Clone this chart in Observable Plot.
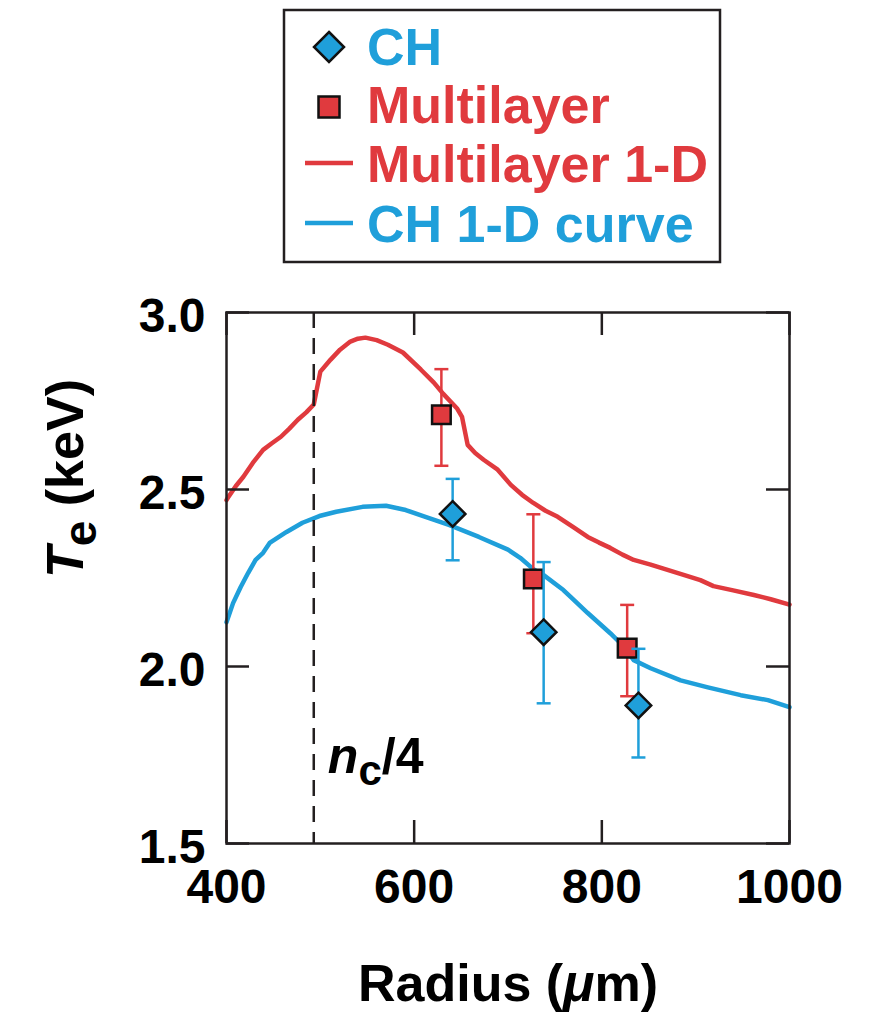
<!DOCTYPE html>
<html><head><meta charset="utf-8">
<script src="https://cdn.jsdelivr.net/npm/d3@7"></script>
<script src="https://cdn.jsdelivr.net/npm/@observablehq/plot@0.6"></script>
<style>
body{margin:0;background:#fff;font-family:"Liberation Sans",Arial,Helvetica,sans-serif;}
#wrap{position:relative;width:877px;}
#legend{position:relative;width:877px;height:290px;}
#chart svg{display:block;}
</style></head><body>
<div id="wrap"><div id="legend"></div><div id="chart"></div></div>
<script>
// ---- data ----
const RED = "#e03a3e", BLUE = "#1f9fda", INK = "#231f20";
const xTicks = [400, 600, 800, 1000];
const yTicks = [1.5, 2.0, 2.5, 3.0];

// Multilayer 1-D curve
const mlCurveX = [400,402,410,418,428,439,448,458,467,476,485,493,500,511,521,532,540,548,560,572,588,607,621,631,646,651,657,665,674,689,703,715,727,740,753,770,785,797,809,822,834,852,870,888,905,919,940,962,980,1000];
const mlCurveY = [2.47,2.479,2.51,2.536,2.575,2.612,2.63,2.649,2.672,2.697,2.718,2.740,2.833,2.867,2.895,2.918,2.926,2.929,2.922,2.909,2.887,2.839,2.802,2.770,2.728,2.705,2.626,2.603,2.584,2.556,2.513,2.485,2.462,2.44,2.423,2.393,2.366,2.350,2.335,2.316,2.301,2.288,2.273,2.258,2.244,2.227,2.215,2.202,2.190,2.175];

// CH 1-D curve
const chCurveX = [400,407,415,423,431,439,446,464,481,499,517,545,570,591,612,637,669,700,713,727,738,759,767,785,809,822,834,852,884,913,948,977,1000];
const chCurveY = [2.125,2.179,2.224,2.264,2.301,2.321,2.349,2.380,2.406,2.425,2.437,2.451,2.454,2.442,2.423,2.400,2.366,2.330,2.307,2.275,2.258,2.216,2.196,2.151,2.094,2.060,2.018,1.995,1.961,1.941,1.919,1.905,1.885];

// measured points
const chX  = [641, 738, 839];
const chY  = [2.431, 2.097, 1.890];
const chLo = [2.30, 1.896, 1.743];
const chHi = [2.53, 2.295, 2.05];

const mlX  = [629, 727, 827];
const mlY  = [2.711, 2.247, 2.052];
const mlLo = [2.567, 2.094, 1.916];
const mlHi = [2.84, 2.43, 2.174];

const ncRadius = 493;
const ncLabelPos = [{x: 508, y: 1.70}];

const legendLabels = ["CH", "Multilayer", "Multilayer 1-D", "CH 1-D curve"];
const legendKinds  = ["diamond", "square", "line", "line"];
const legendColors = [BLUE, RED, RED, BLUE];

// ---- tables ----
const mlCurve = mlCurveX.map((x, i) => ({x, y: mlCurveY[i]}));
const chCurve = chCurveX.map((x, i) => ({x, y: chCurveY[i]}));
const chPts = chX.map((x, i) => ({x, y: chY[i], lo: chLo[i], hi: chHi[i]}));
const mlPts = mlX.map((x, i) => ({x, y: mlY[i], lo: mlLo[i], hi: mlHi[i]}));

const FONT = '"Liberation Sans", Arial, Helvetica, sans-serif';

// ---- legend ----
(function () {
  const svg = d3.select("#legend").append("svg").attr("width", 877).attr("height", 290)
    .style("font-family", FONT);
  svg.append("rect").attr("x", 284).attr("y", 10).attr("width", 436).attr("height", 252)
    .attr("fill", "white").attr("stroke", INK).attr("stroke-width", 2.5);
  const base = [65, 123, 182, 242];
  legendLabels.forEach((lab, i) => {
    const cy = base[i] - 18, cx = 329;
    const k = legendKinds[i];
    if (k === "diamond") {
      svg.append("path").attr("d", `M${cx},${cy-15}L${cx+15},${cy}L${cx},${cy+15}L${cx-15},${cy}Z`)
        .attr("fill", legendColors[i]).attr("stroke", "#111").attr("stroke-width", 2.5);
    } else if (k === "square") {
      svg.append("rect").attr("x", cx - 10.5).attr("y", cy - 10.5 + 2).attr("width", 21).attr("height", 21)
        .attr("fill", legendColors[i]).attr("stroke", "#111").attr("stroke-width", 2.5);
    } else {
      svg.append("line").attr("x1", 305).attr("x2", 353).attr("y1", cy - 1).attr("y2", cy - 1)
        .attr("stroke", legendColors[i]).attr("stroke-width", 4.5);
    }
    svg.append("text").attr("x", 367).attr("y", base[i]).attr("fill", legendColors[i])
      .attr("font-size", 52).attr("font-weight", "bold").text(lab);
  });
})();

// ---- plot ----
const W = 877, H = 731, mT = 22, mB = 178, mL = 226, mR = 88;
const fw = W - mL - mR, fh = H - mT - mB;
const TL = 23;
const capSymbol = {draw(ctx) { ctx.moveTo(-7, 0); ctx.lineTo(7, 0); }};

const plot = Plot.plot({
  width: W, height: H,
  marginTop: mT, marginBottom: mB, marginLeft: mL, marginRight: mR,
  x: {domain: [400, 1000]},
  y: {domain: [1.5, 3.0]},
  style: {fontFamily: FONT, background: "white", overflow: "visible", color: "black"},
  marks: [
    Plot.line(mlCurve, {x: "x", y: "y", stroke: RED, strokeWidth: 4.5, strokeLinejoin: "round"}),
    Plot.line(chCurve, {x: "x", y: "y", stroke: BLUE, strokeWidth: 4.5, strokeLinejoin: "round"}),
    Plot.ruleX([ncRadius], {x: d => d, stroke: INK, strokeWidth: 2.5, strokeDasharray: "16,10"}),
    Plot.ruleX(mlPts, {x: "x", y1: "lo", y2: "hi", stroke: RED, strokeWidth: 2.5}),
    Plot.dot(mlPts, {x: "x", y: "lo", symbol: capSymbol, stroke: RED, strokeWidth: 2.5, fill: "none"}),
    Plot.dot(mlPts, {x: "x", y: "hi", symbol: capSymbol, stroke: RED, strokeWidth: 2.5, fill: "none"}),
    Plot.dot(mlPts, {x: "x", y: "y", symbol: "square", r: 10.5, fill: RED, stroke: "#111", strokeWidth: 2.5}),
    Plot.ruleX(chPts, {x: "x", y1: "lo", y2: "hi", stroke: BLUE, strokeWidth: 2.5}),
    Plot.dot(chPts, {x: "x", y: "lo", symbol: capSymbol, stroke: BLUE, strokeWidth: 2.5, fill: "none"}),
    Plot.dot(chPts, {x: "x", y: "hi", symbol: capSymbol, stroke: BLUE, strokeWidth: 2.5, fill: "none"}),
    Plot.dot(chPts, {x: "x", y: "y", symbol: "diamond2", r: 11.5, fill: BLUE, stroke: "#111", strokeWidth: 2.5}),
    Plot.tickX(xTicks, {x: d => d, insetTop: fh - TL, stroke: INK, strokeWidth: 2.5}),
    Plot.tickX(xTicks, {x: d => d, insetBottom: fh - TL, stroke: INK, strokeWidth: 2.5}),
    Plot.tickY(yTicks, {y: d => d, insetRight: fw - TL, stroke: INK, strokeWidth: 2.5}),
    Plot.tickY(yTicks, {y: d => d, insetLeft: fw - TL, stroke: INK, strokeWidth: 2.5}),
    Plot.frame({stroke: INK, strokeWidth: 2.5}),
    Plot.axisX({ticks: xTicks, tickSize: 0, tickPadding: 25, tickFormat: d => String(d), label: null,
      fontSize: 48, fontWeight: "bold", fill: "black"}),
    Plot.axisY({ticks: yTicks, tickSize: 0, tickPadding: 21, tickFormat: d3.format(".1f"), label: null,
      fontSize: 48, fontWeight: "bold", fill: "black", dy: 4}),
    Plot.text(["Radius (μm)"], {text: d => d, frameAnchor: "bottom", dy: 157, lineAnchor: "bottom",
      fontSize: 52, fontWeight: "bold", fill: "black"}),
    Plot.text(["Te (keV)"], {text: d => d, frameAnchor: "left", rotate: -90, dx: -144, lineAnchor: "bottom",
      fontSize: 52, fontWeight: "bold", fill: "black"}),
    Plot.text(ncLabelPos, {x: "x", y: "y", text: () => "nc/4", textAnchor: "start", lineAnchor: "bottom",
      fontSize: 50, fontWeight: "bold", fill: "black"})
  ]
});
document.getElementById("chart").appendChild(plot);

// rich text formatting
const NS = "http://www.w3.org/2000/svg";
function rich(el, parts) {
  while (el.firstChild) el.removeChild(el.firstChild);
  parts.forEach(p => {
    const t = document.createElementNS(NS, "tspan");
    t.textContent = p.t;
    if (p.italic) t.setAttribute("font-style", "italic");
    if (p.dy) t.setAttribute("dy", p.dy);
    if (p.size) t.setAttribute("font-size", p.size);
    el.appendChild(t);
  });
}
plot.querySelectorAll("text").forEach(el => {
  const s = el.textContent;
  if (s === "Radius (μm)") rich(el, [{t: "Radius ("}, {t: "μ", italic: true}, {t: "m)"}]);
  else if (s === "Te (keV)") rich(el, [{t: "T", italic: true}, {t: "e", dy: 13, size: 46}, {t: " (keV)", dy: -13}]);
  else if (s === "nc/4") rich(el, [{t: "n", italic: true}, {t: "c", dy: 12, size: 42}, {t: "/4", dy: -12}]);
});
</script>
</body></html>
